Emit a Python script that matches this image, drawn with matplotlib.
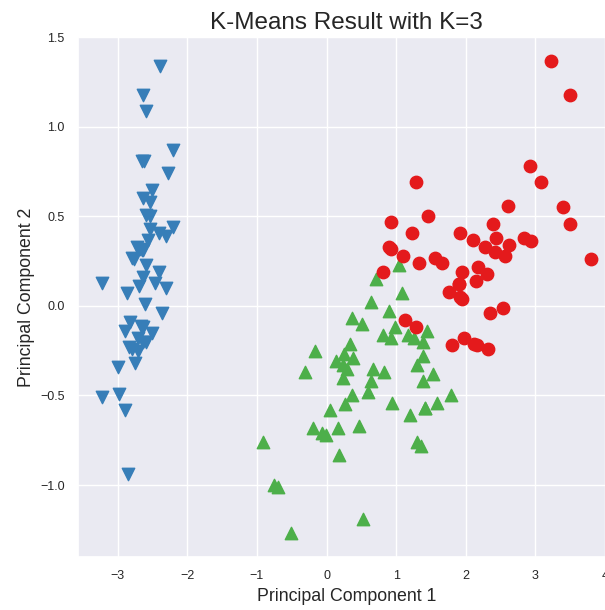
import matplotlib
matplotlib.use("Agg")
import matplotlib.pyplot as plt
import seaborn as sns

# --- dati (PC1, PC2 per cluster) ---
blue_x = [-2.68, -2.71, -2.89, -2.75, -2.73, -2.28, -2.82, -2.63, -2.89, -2.67,
          -2.51, -2.61, -2.79, -3.22, -2.64, -2.39, -2.62, -2.65, -2.20, -2.59,
          -2.31, -2.54, -3.22, -2.30, -2.36, -2.51, -2.47, -2.56, -2.64, -2.63,
          -2.59, -2.41, -2.65, -2.60, -2.64, -2.87, -2.63, -2.80, -2.98, -2.59,
          -2.77, -2.85, -3.00, -2.41, -2.21, -2.71, -2.54, -2.84, -2.54, -2.70]
blue_y = [0.32, -0.18, -0.14, -0.32, 0.33, 0.74, -0.09, 0.16, -0.58, -0.11,
          0.65, 0.01, -0.24, -0.51, 1.18, 1.34, 0.81, 0.31, 0.87, 0.51,
          0.39, 0.43, 0.13, 0.10, -0.04, -0.15, 0.13, 0.37, 0.31, -0.20,
          -0.20, 0.41, 0.81, 1.09, -0.12, 0.07, 0.60, 0.27, -0.49, 0.23,
          0.26, -0.94, -0.34, 0.19, 0.44, -0.25, 0.50, -0.23, 0.58, 0.11]

green_x = [0.18, 1.09, 0.64, -0.75, 1.04, -0.01, -0.51, 0.51, 0.26, 0.98,
           -0.17, 0.66, 0.24, 0.94, 0.05, 0.36, 1.30, 0.92, 0.71, 0.81,
           -0.31, -0.07, -0.19, 0.14, 1.38, 0.59, 0.82, 0.25, 0.17, 0.46,
           0.89, 0.23, -0.70, 0.36, 0.33, 0.38, 0.64, -0.91, 0.30,
           1.42, 0.52, 1.35, 1.59, 1.30, 1.20, 1.39, 1.26, 1.44, 1.78,
           1.17, 1.42, 1.53, 1.39]
green_y = [-0.83, 0.07, -0.42, -1.00, 0.23, -0.72, -1.27, -0.10, -0.55, -0.12,
           -0.25, -0.35, -0.33, -0.54, -0.58, -0.07, -0.33, -0.18, 0.15, -0.16,
           -0.37, -0.71, -0.68, -0.31, -0.42, -0.48, -0.37, -0.27, -0.68, -0.67,
           -0.03, -0.40, -1.01, -0.50, -0.21, -0.29, 0.02, -0.76, -0.35,
           -0.57, -1.19, -0.78, -0.54, -0.76, -0.61, -0.20, -0.18, -0.14, -0.50,
           -0.16, -0.57, -0.38, -0.28]

red_x = [1.28, 0.93, 1.46, 1.10, 0.93, 1.12, 0.90, 1.33, 1.56, 0.81, 1.22,
         2.53, 2.62, 1.97, 2.35, 3.40, 2.93, 2.32, 2.92, 1.66, 1.80,
         2.17, 1.90, 1.95, 3.49, 3.80, 2.43, 3.50, 2.28, 2.61, 1.29,
         2.12, 2.39, 2.84, 3.23, 2.16, 3.08, 2.14, 1.91, 2.11, 2.31,
         1.92, 2.56, 2.42, 1.94, 1.76, 1.90]
red_y = [0.69, 0.32, 0.50, 0.28, 0.47, -0.08, 0.33, 0.24, 0.27, 0.19, 0.41,
         -0.01, 0.34, -0.18, -0.04, 0.55, 0.36, -0.24, 0.78, 0.24, -0.22,
         0.22, 0.12, 0.04, 1.18, 0.26, 0.38, 0.46, 0.33, 0.56, -0.12,
         -0.21, 0.46, 0.38, 1.37, -0.22, 0.69, 0.14, 0.05, 0.37, 0.18,
         0.41, 0.28, 0.30, 0.19, 0.08, 0.12]

# --- stile ---
sns.set_theme(style="darkgrid")
plt.rcParams["font.family"] = ["Liberation Sans", "DejaVu Sans"]

fig = plt.figure(figsize=(6.05, 6.10), dpi=100)
ax = fig.add_axes([0.1289, 0.0869, 0.8886, 0.8525])

ax.scatter(blue_x, blue_y, c="#377eb8", marker="v", s=80)
ax.scatter(green_x, green_y, c="#4daf4a", marker="^", s=80)
ax.scatter(red_x, red_y, c="#e41a1c", marker="o", s=80)

ax.set_title("K-Means Result with K=3", fontsize=17.5)
ax.set_xlabel("Principal Component 1", fontsize=12.8)
ax.set_ylabel("Principal Component 2", fontsize=12.8)
ax.tick_params(labelsize=9)

fig.savefig("out.png", dpi=100)
